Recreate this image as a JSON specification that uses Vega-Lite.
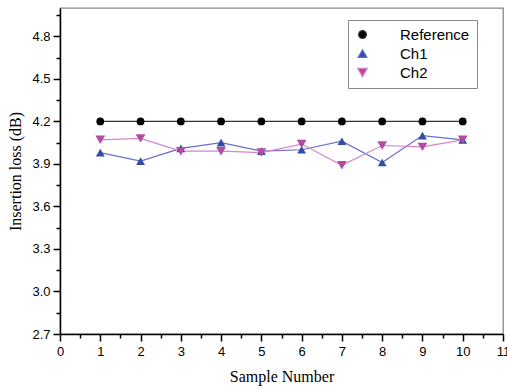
{
  "$schema": "https://vega.github.io/schema/vega-lite/v6.json",
  "width": 443,
  "height": 326,
  "autosize": {"type": "none"},
  "padding": {"left": 60, "top": 8, "right": 4, "bottom": 55},
  "background": "white",
  "data": {"values": [
    {"sample": 1, "series": "Reference", "loss": 4.2},
    {"sample": 2, "series": "Reference", "loss": 4.2},
    {"sample": 3, "series": "Reference", "loss": 4.2},
    {"sample": 4, "series": "Reference", "loss": 4.2},
    {"sample": 5, "series": "Reference", "loss": 4.2},
    {"sample": 6, "series": "Reference", "loss": 4.2},
    {"sample": 7, "series": "Reference", "loss": 4.2},
    {"sample": 8, "series": "Reference", "loss": 4.2},
    {"sample": 9, "series": "Reference", "loss": 4.2},
    {"sample": 10, "series": "Reference", "loss": 4.2},
    {"sample": 1, "series": "Ch1", "loss": 3.98},
    {"sample": 2, "series": "Ch1", "loss": 3.92},
    {"sample": 3, "series": "Ch1", "loss": 4.01},
    {"sample": 4, "series": "Ch1", "loss": 4.05},
    {"sample": 5, "series": "Ch1", "loss": 3.99},
    {"sample": 6, "series": "Ch1", "loss": 4.0},
    {"sample": 7, "series": "Ch1", "loss": 4.06},
    {"sample": 8, "series": "Ch1", "loss": 3.91},
    {"sample": 9, "series": "Ch1", "loss": 4.1},
    {"sample": 10, "series": "Ch1", "loss": 4.07},
    {"sample": 1, "series": "Ch2", "loss": 4.07},
    {"sample": 2, "series": "Ch2", "loss": 4.08},
    {"sample": 3, "series": "Ch2", "loss": 3.99},
    {"sample": 4, "series": "Ch2", "loss": 3.99},
    {"sample": 5, "series": "Ch2", "loss": 3.98},
    {"sample": 6, "series": "Ch2", "loss": 4.04},
    {"sample": 7, "series": "Ch2", "loss": 3.89},
    {"sample": 8, "series": "Ch2", "loss": 4.03},
    {"sample": 9, "series": "Ch2", "loss": 4.02},
    {"sample": 10, "series": "Ch2", "loss": 4.07}
  ]},
  "layer": [
    {
      "mark": {"type": "line", "strokeWidth": 1.2},
      "encoding": {
        "x": {"field": "sample", "type": "quantitative",
          "scale": {"domain": [0, 11], "nice": false, "zero": false},
          "axis": {"values": [0,1,2,3,4,5,6,7,8,9,10,11], "format": "d", "tickSize": 7, "tickWidth": 1.5, "tickColor": "#000",
            "domainColor": "#000", "domainWidth": 1.5, "grid": false, "labelFontSize": 13, "labelColor": "#000",
            "labelFont": "Liberation Sans", "labelPadding": 4, "labelFlush": false, "labelOverlap": false,
            "title": "Sample Number", "titleFont": "Liberation Serif", "titleFontSize": 16, "titleFontWeight": "normal",
            "titleColor": "#000", "titlePadding": 10, "orient": "bottom"}},
        "y": {"field": "loss", "type": "quantitative",
          "scale": {"domain": [2.7, 5.0], "nice": false, "zero": false},
          "axis": {"values": [2.7,3.0,3.3,3.6,3.9,4.2,4.5,4.8], "format": ".1f", "tickSize": 7, "tickWidth": 1.5, "tickColor": "#000",
            "domainColor": "#000", "domainWidth": 1.5, "grid": false, "labelFontSize": 13, "labelColor": "#000",
            "labelFont": "Liberation Sans", "labelPadding": 3, "labelFlush": false, "labelOverlap": false,
            "title": "Insertion loss (dB)", "titleFont": "Liberation Serif", "titleFontSize": 16, "titleFontWeight": "normal",
            "titleColor": "#000", "titlePadding": 8, "orient": "left"}},
        "stroke": {"field": "series", "type": "nominal",
          "scale": {"domain": ["Reference", "Ch1", "Ch2"], "range": ["#333333", "#6a6ec8", "#d884cc"]}}
      }
    },
    {
      "mark": {"type": "point", "filled": true, "opacity": 1, "strokeWidth": 0},
      "encoding": {
        "x": {"field": "sample", "type": "quantitative",
          "axis": {"values": [0.5,1.5,2.5,3.5,4.5,5.5,6.5,7.5,8.5,9.5,10.5], "tickSize": 4, "tickWidth": 1.5, "tickColor": "#000",
            "domain": false, "labels": false, "grid": false, "title": null, "orient": "bottom"}},
        "y": {"field": "loss", "type": "quantitative",
          "axis": {"values": [2.85,3.15,3.45,3.75,4.05,4.35,4.65,4.95], "tickSize": 4, "tickWidth": 1.5, "tickColor": "#000",
            "domain": false, "labels": false, "grid": false, "title": null, "orient": "left"}},
        "size": {"field": "series", "type": "nominal",
          "scale": {"domain": ["Reference", "Ch1", "Ch2"], "range": [60, 95, 95]}},
        "fill": {"field": "series", "type": "nominal",
          "scale": {"domain": ["Reference", "Ch1", "Ch2"], "range": ["#000000", "#2f4ca6", "#b14ca2"]},
          "legend": {
            "title": null, "orient": "none", "legendX": 288, "legendY": 12,
            "strokeColor": "#888", "padding": 7, "labelFontSize": 15, "labelFont": "Liberation Sans", "labelColor": "#000",
            "symbolSize": 100, "labelOffset": 30, "rowPadding": 3, "symbolStrokeWidth": 1.2, "fillColor": "white"
          }},
        "shape": {"field": "series", "type": "nominal",
          "scale": {"domain": ["Reference", "Ch1", "Ch2"], "range": ["circle", "triangle-up", "triangle-down"]}}
      }
    }
  ],
  "resolve": {"axis": {"x": "independent", "y": "independent"}},
  "config": {
    "view": {"stroke": "#888", "strokeWidth": 1.3},
    "font": "Liberation Sans"
  }
}
